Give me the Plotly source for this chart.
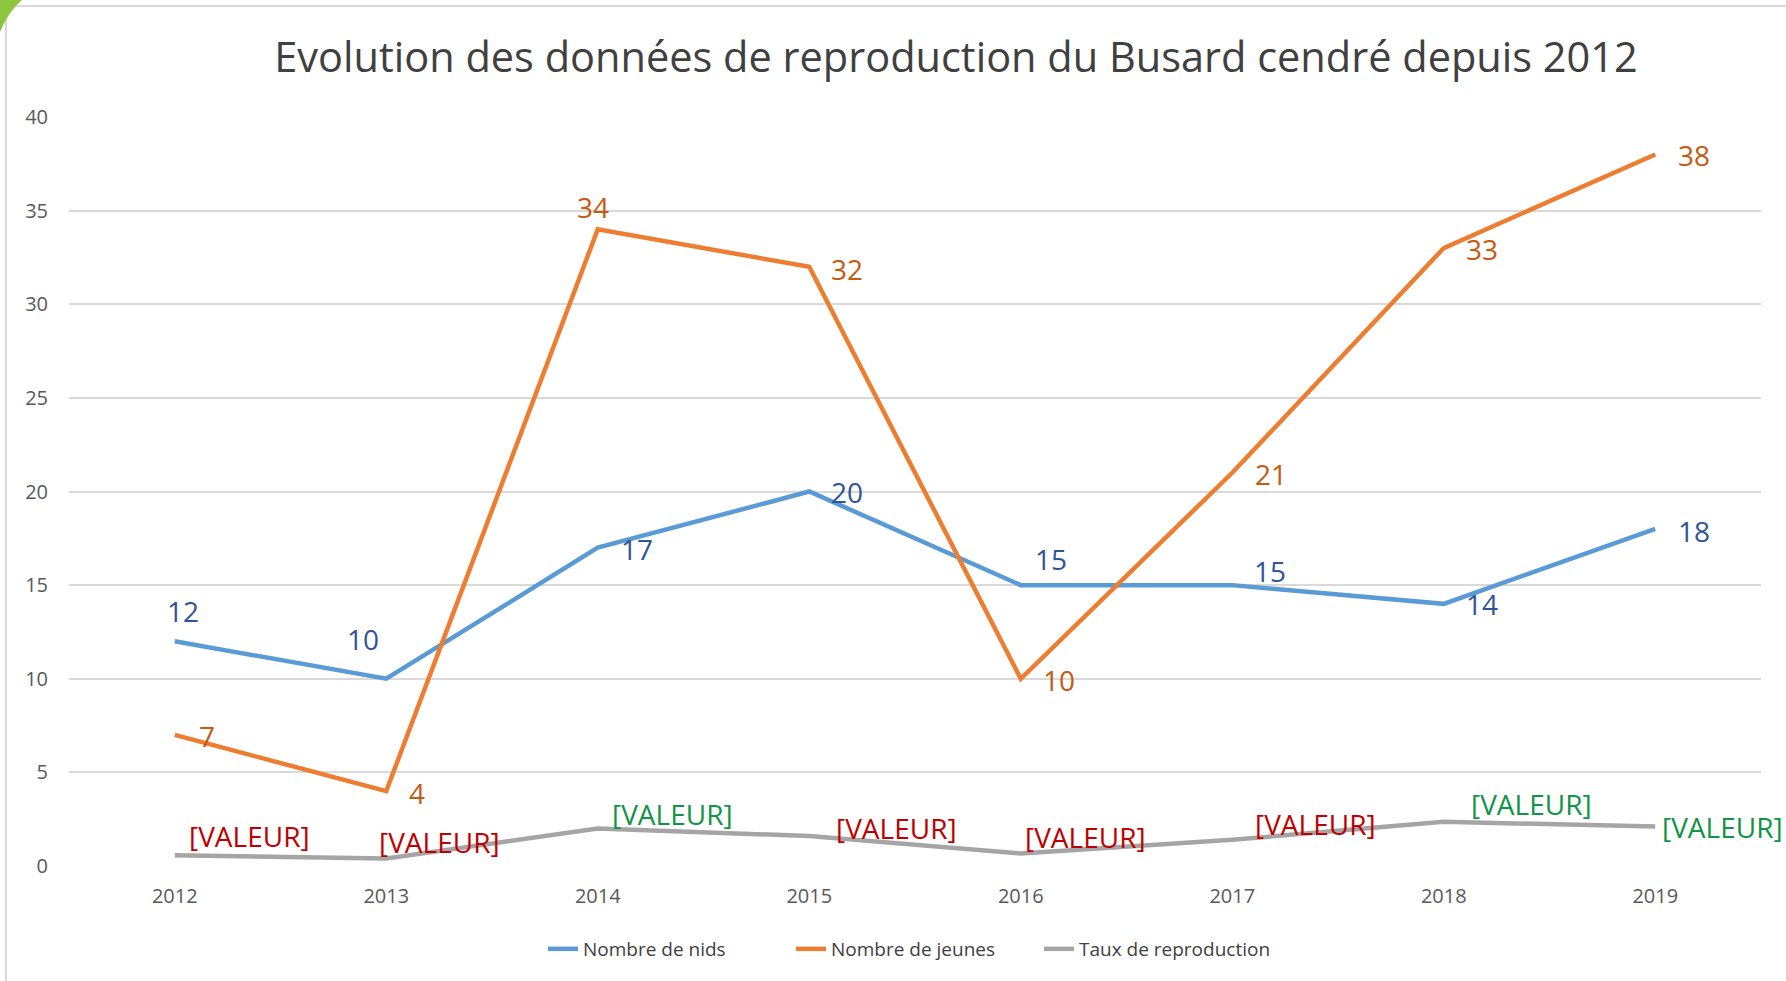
import plotly.graph_objects as go

# ---- data ----
years = ["2012", "2013", "2014", "2015", "2016", "2017", "2018", "2019"]
nids = [12, 10, 17, 20, 15, 15, 14, 18]
jeunes = [7, 4, 34, 32, 10, 21, 33, 38]
taux = [0.58, 0.4, 2.0, 1.6, 0.67, 1.4, 2.36, 2.11]
taux_labels = ["[VALEUR]"] * 8
taux_label_ok = [False, False, True, False, False, False, True, True]  # green vs red

series_names = ["Nombre de nids", "Nombre de jeunes", "Taux de reproduction"]
title_text = "Evolution des données de reproduction du Busard cendré depuis 2012"

# ---- style ----
W, H = 1786, 981
ML, MR, MT, MB = 69, 25, 117, 115
FONT = "Open Sans"
C_BLUE, C_ORANGE, C_GRAY = "#5B9BD5", "#ED7D31", "#A5A5A5"
C_BLUE_LBL, C_ORANGE_LBL = "#2F5597", "#C55A11"
C_RED, C_GREEN = "#C00000", "#119446"
LBL_SIZE = 28

# label offsets (pixels): (xshift, yshift)
off_nids = [(8, 30), (-23, 40), (39, -1), (38, 0), (30, 26), (38, 14), (38, 0), (39, -2)]
off_jeunes = [(32, -1), (31, -2), (-5, 22), (38, -2), (38, -1), (39, -1), (38, -1), (39, -1)]
off_taux = [(12, 19), (-9, 17), (12, 15), (25, 8), (2, 16), (21, 16), (25, 18), (5, -1)]

fig = go.Figure()
for name, vals, col in zip(series_names, [nids, jeunes, taux], [C_BLUE, C_ORANGE, C_GRAY]):
    fig.add_trace(go.Scatter(x=years, y=vals, name=name, mode="lines",
                             line=dict(color=col, width=4.5), hoverinfo="skip"))

annotations = []
for i in range(len(years)):
    dx, dy = off_nids[i]
    annotations.append(dict(x=i, y=nids[i], text=str(nids[i]), showarrow=False,
                            xshift=dx, yshift=dy,
                            font=dict(family=FONT, size=LBL_SIZE, color=C_BLUE_LBL)))
    dx, dy = off_jeunes[i]
    annotations.append(dict(x=i, y=jeunes[i], text=str(jeunes[i]), showarrow=False,
                            xshift=dx, yshift=dy,
                            font=dict(family=FONT, size=LBL_SIZE, color=C_ORANGE_LBL)))
    dx, dy = off_taux[i]
    annotations.append(dict(x=i, y=taux[i], text=taux_labels[i], showarrow=False,
                            xanchor="left", xshift=dx, yshift=dy,
                            font=dict(family=FONT, size=LBL_SIZE,
                                      color=C_GREEN if taux_label_ok[i] else C_RED)))

PW = W - ML - MR
PH = H - MT - MB


def px(x):
    return (x - ML) / PW


def py(y):
    return (H - MB - y) / PH


shapes = [
    # chart frame (extends beyond the picture on right and bottom)
    dict(type="rect", xref="paper", yref="paper",
         x0=px(6), x1=px(1800), y0=py(1000), y1=py(6),
         line=dict(color="#D9D9D9", width=2), layer="below"),
    # green corner decoration
    dict(type="path", xref="paper", yref="paper",
         path=f"M {px(0)},{py(0)} L {px(22)},{py(0)} Q {px(8)},{py(12)} {px(0)},{py(32)} Z",
         fillcolor="#8CC63E", line=dict(width=0)),
]

fig.update_layout(
    width=W, height=H,
    margin=dict(l=ML, r=MR, t=MT, b=MB),
    paper_bgcolor="white", plot_bgcolor="white",
    font=dict(family=FONT, color="#595959"),
    title=dict(text=title_text, xref="container", yref="container",
               x=956 / W, y=1 - 57 / H, xanchor="center", yanchor="middle",
               font=dict(family=FONT, size=41.5, color="#404040")),
    xaxis=dict(type="category", range=[-0.5, 7.5], showgrid=False, zeroline=False,
               showline=False, ticks="", tickfont=dict(size=20, color="#595959"),
               ticklabelstandoff=16),
    yaxis=dict(range=[0, 40], dtick=5, showgrid=True, gridcolor="#D9D9D9", gridwidth=1.5,
               zeroline=False, showline=False, ticks="",
               tickfont=dict(size=20, color="#595959"), ticklabelstandoff=20),
    showlegend=True,
    legend=dict(orientation="h", xref="container", yref="container",
                x=543 / W, y=1 - 949 / H, xanchor="left", yanchor="middle",
                font=dict(family=FONT, size=19, color="#404040"),
                entrywidth=203, entrywidthmode="pixels",
                bgcolor="rgba(0,0,0,0)"),
    annotations=annotations,
    shapes=shapes,
)

fig.write_html("out.html", config={"displayModeBar": False},
               post_script="document.body.style.margin='0';document.body.style.overflow='hidden';")
